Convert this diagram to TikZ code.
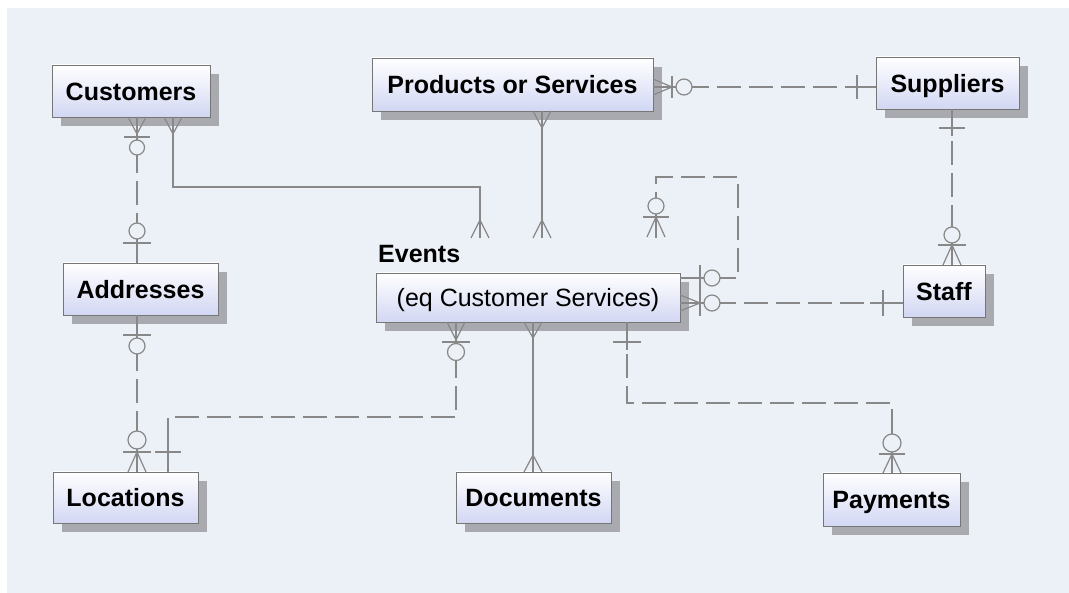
\documentclass[tikz,border=0pt]{standalone}
\usepackage{fontspec}
\setmainfont{Liberation Sans}
\usetikzlibrary{shadows}
\definecolor{bgc}{RGB}{236,241,247}
\definecolor{lav}{RGB}{210,215,243}
\definecolor{edgec}{RGB}{118,118,118}
\definecolor{linec}{RGB}{136,136,136}
\definecolor{shadc}{RGB}{168,170,176}
\newcommand{\ervcrow}[3]{\draw[sym] (#1,#2) -- (#1-9,#3) (#1,#2) -- (#1,#3) (#1,#2) -- (#1+9,#3);}
\newcommand{\erhcrow}[3]{\draw[sym] (#2,#1) -- (#3,#1-8) (#2,#1) -- (#3,#1) (#2,#1) -- (#3,#1+8);}
\newcommand{\erbarv}[3]{\draw[sym] (#1-#3,#2) -- (#1+#3,#2);}
\newcommand{\erbarh}[3]{\draw[sym] (#1,#2-#3) -- (#1,#2+#3);}
\newcommand{\ercirc}[3]{\draw[sym,fill=bgc] (#1,#2) circle[radius=#3pt];}
\begin{document}
\begin{tikzpicture}[x=1pt,y=-1pt,
  ent/.style={draw=edgec,line width=0.9pt,top color=white,bottom color=lav,
    inner sep=0pt,text height=18.5pt,text depth=0pt,
    font=\fontsize{25}{30}\selectfont\bfseries,
    drop shadow={shadow xshift=9pt,shadow yshift=-9pt,fill=shadc,opacity=1}},
  rel/.style={draw=linec,line width=1.2pt},
  opt/.style={rel,dash pattern=on 24pt off 8pt},
  sym/.style={draw=linec,line width=1.2pt}]
\useasboundingbox (0,0) rectangle (1069,593);
\fill[white] (0,0) rectangle (1069,593);
\fill[bgc] (7,8) rectangle (1069,593);
% entities
\node[ent,minimum width=158pt,minimum height=52pt] (cust) at (131,91) {Customers};
\node[ent,minimum width=281pt,minimum height=53pt] (prod) at (512.5,84.5) {Products or Services};
\node[ent,minimum width=143pt,minimum height=52pt] (supp) at (947.5,83) {Suppliers};
\node[ent,minimum width=155pt,minimum height=52pt] (addr) at (140.5,289) {Addresses};
\node[ent,minimum width=304pt,minimum height=49pt,font=\fontsize{25}{30}\selectfont] (events) at (528,297.5) {(eq Customer Services)};
\node[font=\fontsize{25}{30}\selectfont\bfseries,anchor=west,inner sep=0pt,text height=18.5pt,text depth=0pt] (evtitle) at (378,253) {Events};
\coordinate (evtop) at (0,238);
\node[ent,minimum width=82pt,minimum height=52pt] (staff) at (944,291) {Staff};
\node[ent,minimum width=145pt,minimum height=51pt] (loc) at (125.5,497.5) {Locations};
\node[ent,minimum width=155pt,minimum height=51pt] (docs) at (533.5,497.5) {Documents};
\node[ent,minimum width=137pt,minimum height=53pt] (pay) at (891.5,499.5) {Payments};
% Customers -- Addresses
\draw[opt] (137,0 |- cust.south) -- (137,0 |- addr.north);
\draw[rel] (137,117) -- (137,140) (137,224) -- (137,263);
\ervcrow{137}{134}{117}
\erbarv{137}{137}{13}
\ercirc{137}{147.5}{7.5}
\ercirc{137}{231}{8}
\erbarv{137}{243}{14}
% Customers -- Events
\draw[rel] (173,0 |- cust.south) |- (480,187) -- (480,0 |- evtop);
\ervcrow{173}{134}{117}
\ervcrow{480}{220}{238}
% Products -- Events
\draw[rel] (542,0 |- prod.south) -- (542,0 |- evtop);
\ervcrow{542}{128}{111}
\ervcrow{542}{220}{238}
% Products -- Suppliers
\draw[opt] (prod.east |- 0,87) -- (supp.west |- 0,87);
\draw[rel] (653,87) -- (690,87) (845,87) -- (876,87);
\erhcrow{87}{672}{653}
\erbarh{672}{87}{11}
\ercirc{684}{87}{8}
\erbarh{857}{87}{12}
% Suppliers -- Staff
\draw[opt] (952,0 |- supp.south) -- (952,0 |- staff.north);
\draw[rel] (952,109) -- (952,136) (952,222) -- (952,265);
\erbarv{952}{128}{13}
\ercirc{952}{235}{8}
\erbarv{952}{245}{14}
\ervcrow{952}{245}{265}
% Events self relationship
\draw[opt] (events.east |- 0,278) -| (738,177) -| (656,0 |- evtop);
\draw[rel] (680,278) -- (720,278) (656,195) -- (656,237);
\erbarh{700}{278}{13}
\ercirc{712}{278}{8}
\ercirc{656}{206}{8}
\erbarv{656}{217}{13}
\ervcrow{656}{217}{237}
% Events -- Staff
\draw[opt] (events.east |- 0,303) -- (staff.west |- 0,303);
\draw[rel] (680,303) -- (720,303) (870,303) -- (903,303);
\erhcrow{303}{700}{680}
\erbarh{700}{303}{13}
\ercirc{712}{303}{8}
\erbarh{883}{303}{13}
% Events -- Locations
\draw[opt] (456,0 |- events.south) |- (168,417) -- (168,0 |- loc.north);
\draw[rel] (456,322) -- (456,370) (168,440) -- (168,472);
\ervcrow{456}{340}{322}
\erbarv{456}{342}{14}
\ercirc{456}{352}{8.5}
\erbarv{168}{452}{13}
% Addresses -- Locations
\draw[opt] (137,0 |- addr.south) -- (137,0 |- loc.north);
\draw[rel] (137,315) -- (137,360) (137,425) -- (137,472);
\erbarv{137}{335}{14}
\ercirc{137}{346}{8}
\ercirc{137}{440}{9}
\erbarv{137}{452}{14}
\ervcrow{137}{452}{472}
% Events -- Documents
\draw[rel] (533,0 |- events.south) -- (533,0 |- docs.north);
\ervcrow{533}{338}{322}
\ervcrow{533}{455}{472}
% Events -- Payments
\draw[opt] (627,0 |- events.south) |- (892,403) -- (892,0 |- pay.north);
\draw[rel] (627,322) -- (627,350) (892,425) -- (892,473);
\erbarv{627}{342}{14}
\ercirc{892}{443}{9}
\erbarv{892}{454}{13}
\ervcrow{892}{454}{473}
\end{tikzpicture}
\end{document}
